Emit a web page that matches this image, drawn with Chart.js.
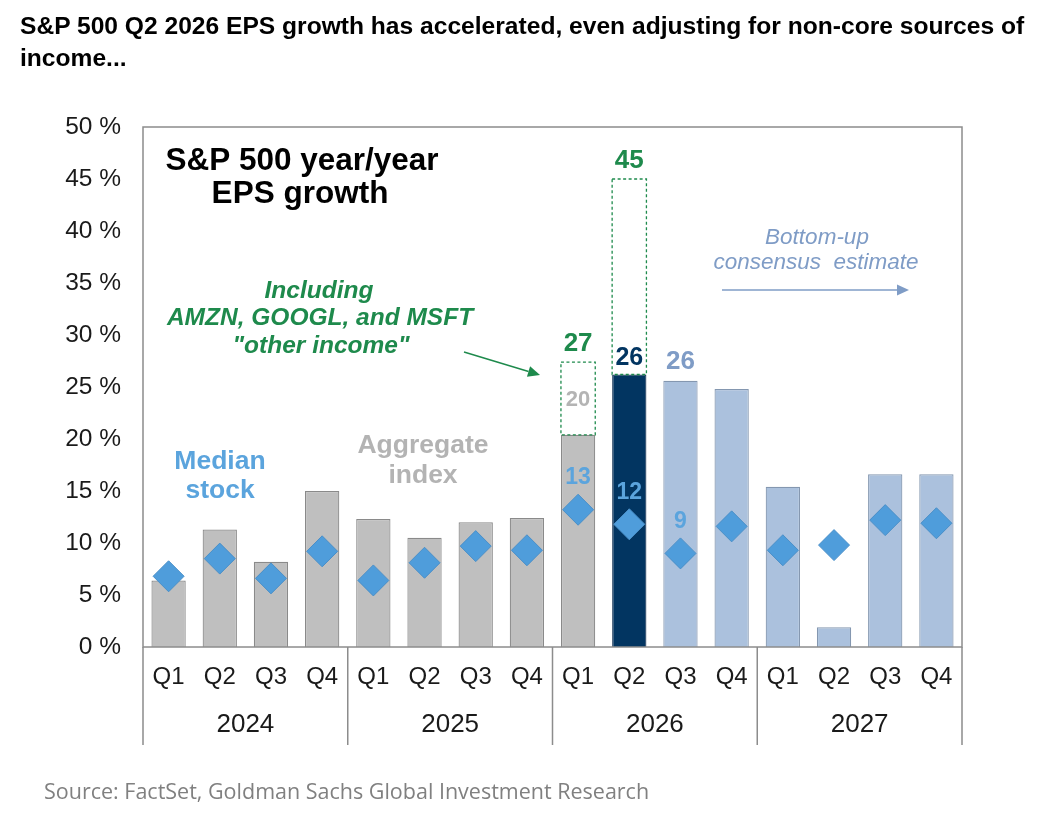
<!DOCTYPE html>
<html>
<head>
<meta charset="utf-8">
<script src="https://cdn.jsdelivr.net/npm/chart.js@4.4.1/dist/chart.umd.min.js"></script>
<style>
  body { margin: 0; background: #fff; width: 1050px; height: 830px; position: relative; overflow: hidden; }
  #title { position: absolute; left: 20px; top: 10px; width: 1025px; font: bold 24.6px "Liberation Sans", Arial, sans-serif; line-height: 32px; color: #000; }
  #source { position: absolute; left: 44px; top: 776px; font: 21.5px "Open Sans", sans-serif; color: #808080; }
  canvas { position: absolute; left: 0; top: 0; }
</style>
</head>
<body>
<canvas id="myChart" width="1050" height="830"></canvas>
<div id="title">S&amp;P 500 Q2 2026 EPS growth has accelerated, even adjusting for non-core sources of income...</div>
<div id="source">Source: FactSet, Goldman Sachs Global Investment Research</div>
<script>
const quarters = ['Q1', 'Q2', 'Q3', 'Q4', 'Q1', 'Q2', 'Q3', 'Q4', 'Q1', 'Q2', 'Q3', 'Q4', 'Q1', 'Q2', 'Q3', 'Q4'];
const years = ['2024', '2025', '2026', '2027'];
const yTicks = [0, 5, 10, 15, 20, 25, 30, 35, 40, 45, 50];
// aggregate index yoy EPS growth (%)
const aggregateEps = [6.4, 11.3, 8.2, 15.0, 12.3, 10.5, 12.0, 12.4, 20.4, 26.2, 25.6, 24.8, 15.4, 1.9, 16.6, 16.6];
// including AMZN/GOOGL/MSFT "other income"
const inclOtherIncome = [null, null, null, null, null, null, null, null, 27.4, 45.0, null, null, null, null, null, null];
// median stock
const medianEps = [6.8, 8.5, 6.6, 9.2, 6.4, 8.1, 9.7, 9.3, 13.2, 11.8, 9.0, 11.6, 9.3, 9.8, 12.2, 11.9];
const labelled = [8, 9, 10];

const GRAY = '#bfbfbf', NAVY = '#023561', LIGHT = '#abc1dd', GREEN = '#1e8a4c', DIAMOND = '#4f9ddb';
const font = 'Arial, "Liberation Sans", sans-serif';

function barColor(i) {
    if (i <= 8) return GRAY;
    if (i === 9) return NAVY;
    return LIGHT;
}
function barBorder(i) {
    if (i <= 8) return '#8a8a8a';
    if (i === 9) return '#1d3b5c';
    return '#8497b0';
}

function arrow(ctx, x1, y1, x2, y2, color, head) {
    const a = Math.atan2(y2 - y1, x2 - x1);
    ctx.strokeStyle = color;
    ctx.fillStyle = color;
    ctx.lineWidth = 1.5;
    ctx.beginPath();
    ctx.moveTo(x1, y1);
    ctx.lineTo(x2 - Math.cos(a) * head, y2 - Math.sin(a) * head);
    ctx.stroke();
    ctx.beginPath();
    ctx.moveTo(x2, y2);
    ctx.lineTo(x2 - head * Math.cos(a) + head * 0.45 * Math.sin(a), y2 - head * Math.sin(a) - head * 0.45 * Math.cos(a));
    ctx.lineTo(x2 - head * Math.cos(a) - head * 0.45 * Math.sin(a), y2 - head * Math.sin(a) + head * 0.45 * Math.cos(a));
    ctx.closePath();
    ctx.fill();
}

function text(ctx, str, x, y, style, color) {
    ctx.font = style;
    ctx.fillStyle = color;
    ctx.textAlign = 'center';
    ctx.textBaseline = 'middle';
    ctx.fillText(str, x, y);
}

const decorations = {
    id: 'decorations',
    afterDatasetsDraw(chart) {
        const ctx = chart.ctx;
        const area = chart.chartArea;
        const x = chart.scales.x;
        const y = chart.scales.y;
        ctx.save();

        // dashed outline for the "other income" boxes
        const dashMeta = chart.getDatasetMeta(2);
        ctx.strokeStyle = GREEN;
        ctx.lineWidth = 1.3;
        ctx.setLineDash([3, 2.5]);
        dashMeta.data.forEach((bar, i) => {
            if (inclOtherIncome[i] == null) return;
            const p = bar.getProps(['x', 'y', 'base', 'width'], true);
            ctx.strokeRect(p.x - p.width / 2, Math.min(p.y, p.base), p.width, Math.abs(p.base - p.y));
        });
        ctx.setLineDash([]);

        // plot frame and year separators
        const bottom = chart.scales.x2.bottom;
        ctx.strokeStyle = '#8c8c8c';
        ctx.lineWidth = 1.5;
        ctx.strokeRect(area.left, area.top, area.right - area.left, area.bottom - area.top);
        ctx.beginPath();
        const edges = [area.left, area.right];
        for (let k = 4; k < quarters.length; k += 4) {
            edges.push((x.getPixelForValue(k - 1) + x.getPixelForValue(k)) / 2);
        }
        edges.forEach(px => { ctx.moveTo(px, area.bottom); ctx.lineTo(px, bottom); });
        ctx.stroke();

        // value labels
        labelled.forEach(i => {
            const px = x.getPixelForValue(i);
            const agg = Math.round(aggregateEps[i]);
            if (inclOtherIncome[i] != null) {
                text(ctx, String(Math.round(inclOtherIncome[i])), px, y.getPixelForValue(inclOtherIncome[i]) - 18, 'bold 26px ' + font, GREEN);
            }
            if (i === 8) {
                text(ctx, String(agg), px, (y.getPixelForValue(aggregateEps[i]) + y.getPixelForValue(inclOtherIncome[i])) / 2 + 1, 'bold 22px ' + font, '#b4b4b4');
            } else if (i === 9) {
                text(ctx, String(agg), px, y.getPixelForValue(aggregateEps[i]) - 16, 'bold 25px ' + font, NAVY);
            } else {
                text(ctx, String(agg), px, y.getPixelForValue(aggregateEps[i]) - 19, 'bold 26px ' + font, '#7f9cc6');
            }
            text(ctx, String(Math.round(medianEps[i])), px, y.getPixelForValue(medianEps[i]) - 32, 'bold 23px ' + font, '#5ba4dd');
        });

        // annotations
        text(ctx, 'S&P 500 year/year', 302, 161, 'bold 31.5px ' + font, '#000');
        text(ctx, 'EPS growth', 300, 194, 'bold 31.5px ' + font, '#000');

        const gi = 'italic bold 24.5px ' + font;
        text(ctx, 'Including', 319, 291, gi, GREEN);
        text(ctx, 'AMZN, GOOGL, and MSFT', 320, 318, gi, GREEN);
        text(ctx, '"other income"', 321, 346, gi, GREEN);
        arrow(ctx, 464, 352, 540, 375, GREEN, 12);

        text(ctx, 'Median', 220, 462, 'bold 26.5px ' + font, '#5ba4dd');
        text(ctx, 'stock', 220, 491, 'bold 26.5px ' + font, '#5ba4dd');
        text(ctx, 'Aggregate', 423, 446, 'bold 26.5px ' + font, '#b3b3b3');
        text(ctx, 'index', 423, 476, 'bold 26.5px ' + font, '#b3b3b3');

        text(ctx, 'Bottom-up', 817, 238, 'italic 22.5px ' + font, '#7f9cc6');
        text(ctx, 'consensus  estimate', 816, 263, 'italic 22.5px ' + font, '#7f9cc6');
        arrow(ctx, 722, 290, 909, 290, '#7f9cc6', 12);

        ctx.restore();
    }
};

const ctx = document.getElementById('myChart').getContext('2d');
new Chart(ctx, {
    type: 'bar',
    data: {
        labels: quarters,
        datasets: [
            {
                type: 'line',
                label: 'Median stock',
                data: medianEps,
                showLine: false,
                pointStyle: 'rectRot',
                pointRadius: 15.5,
                pointBackgroundColor: DIAMOND,
                pointBorderColor: '#4a8fc8',
                pointBorderWidth: 1,
                order: 0
            },
            {
                label: 'Aggregate index',
                data: aggregateEps,
                backgroundColor: aggregateEps.map((v, i) => barColor(i)),
                borderColor: aggregateEps.map((v, i) => barBorder(i)),
                borderWidth: 1.2,
                grouped: false,
                barPercentage: 0.67,
                categoryPercentage: 1,
                order: 1
            },
            {
                label: 'Including other income',
                data: inclOtherIncome.map((v, i) => v == null ? null : [aggregateEps[i], v]),
                backgroundColor: '#ffffff',
                borderWidth: 0,
                grouped: false,
                barPercentage: 0.67,
                categoryPercentage: 1,
                order: 2
            }
        ]
    },
    options: {
        responsive: false,
        animation: false,
        layout: { padding: { left: 20, right: 88, top: 127, bottom: 85 } },
        plugins: { legend: { display: false }, tooltip: { enabled: false } },
        scales: {
            x: {
                grid: { display: false, drawTicks: false },
                border: { display: false },
                ticks: { color: '#1a1a1a', font: { family: font, size: 24 }, padding: 16, maxRotation: 0, autoSkip: false },
                afterFit: s => { s.height = 50; }
            },
            x2: {
                type: 'category',
                labels: years,
                position: 'bottom',
                offset: true,
                grid: { display: false, drawTicks: false },
                border: { display: false },
                ticks: { color: '#1a1a1a', font: { family: font, size: 26 }, padding: 12 },
                afterFit: s => { s.height = 48; }
            },
            y: {
                min: 0,
                max: 50,
                afterBuildTicks: s => { s.ticks = yTicks.map(v => ({ value: v })); },
                grid: { display: false, drawTicks: false },
                border: { display: false },
                ticks: { color: '#1a1a1a', font: { family: font, size: 24.5 }, padding: 22, callback: v => v + ' %' },
                afterFit: s => { s.width = 123; }
            }
        }
    },
    plugins: [decorations]
});
</script>
</body>
</html>
